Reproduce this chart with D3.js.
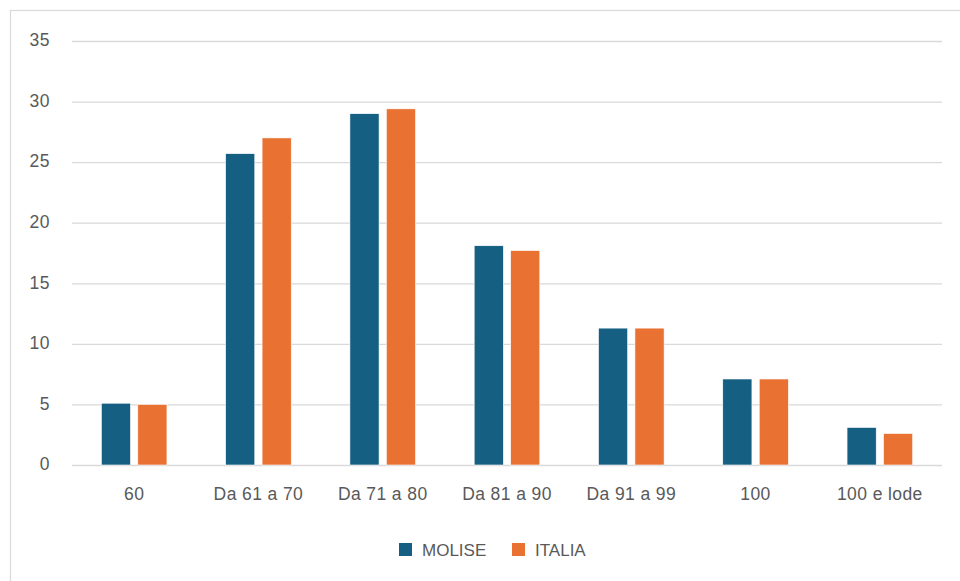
<!DOCTYPE html>
<html>
<head>
<meta charset="utf-8">
<title>MOLISE vs ITALIA</title>
<style>
  body { margin: 0; background: #fff; }
  text { font-family: "Liberation Sans", Arial, sans-serif; fill: #595959; }
  .grid line { stroke: #d9d9d9; stroke-width: 1.3; }
  .grid path { display: none; }
</style>
</head>
<body>
<script src="https://cdn.jsdelivr.net/npm/d3@7"></script>
<script>
// data
var categories = ["60", "Da 61 a 70", "Da 71 a 80", "Da 81 a 90", "Da 91 a 99", "100", "100 e lode"];
var seriesNames = ["MOLISE", "ITALIA"];
var molise = [5.1, 25.7, 29.0, 18.1, 11.3, 7.1, 3.1];
var italia = [5.0, 27.0, 29.4, 17.7, 11.3, 7.1, 2.6];
var yTicks = [0, 5, 10, 15, 20, 25, 30, 35];
var colours = ["#156082", "#e97132"];

var width = 960, height = 581;
var plot = {left: 72, right: 942, top: 41, bottom: 465};

var svg = d3.select("body").append("svg")
    .attr("width", width)
    .attr("height", height);

// chart frame
svg.append("rect")
    .attr("x", 10.5).attr("y", 10.5)
    .attr("width", 980).attr("height", 620)
    .attr("fill", "none").attr("stroke", "#d9d9d9").attr("stroke-width", 1.2);

var x0 = d3.scaleBand().domain(categories)
    .range([plot.left, plot.right])
    .paddingInner(0.472).paddingOuter(0.236);
var x1 = d3.scaleBand().domain(seriesNames)
    .range([0, x0.bandwidth()])
    .paddingInner(0.2);
var y = d3.scaleLinear().domain([0, 35]).range([plot.bottom, plot.top]);

// gridlines
svg.append("g")
    .attr("class", "grid")
    .attr("transform", "translate(" + plot.left + ",0)")
    .call(d3.axisLeft(y).tickValues(yTicks).tickSize(-(plot.right - plot.left)).tickFormat(""));

// y labels
svg.append("g").selectAll("text")
    .data(yTicks).enter().append("text")
    .attr("x", 50)
    .attr("y", function (d) { return y(d); })
    .attr("dy", "0.3em")
    .attr("text-anchor", "end")
    .style("font-size", "17.5px")
    .style("letter-spacing", "0.5px")
    .text(function (d) { return d; });

// bars
var rows = categories.map(function (c, i) { return {cat: c, vals: [molise[i], italia[i]]}; });
var groups = svg.append("g").selectAll("g")
    .data(rows).enter().append("g")
    .attr("transform", function (d) { return "translate(" + x0(d.cat) + ",0)"; });
groups.selectAll("rect")
    .data(function (d) { return d.vals.map(function (v, k) { return {s: seriesNames[k], v: v, k: k}; }); })
    .enter().append("rect")
    .attr("x", function (d) { return x1(d.s); })
    .attr("y", function (d) { return y(d.v); })
    .attr("width", x1.bandwidth())
    .attr("height", function (d) { return y(0) - y(d.v); })
    .attr("fill", function (d) { return colours[d.k]; })
    .attr("stroke", "#fff").attr("stroke-width", 0.6);

// x labels
svg.append("g").selectAll("text")
    .data(categories).enter().append("text")
    .attr("x", function (d) { return x0(d) + x0.bandwidth() / 2; })
    .attr("y", 500)
    .attr("text-anchor", "middle")
    .style("font-size", "17.5px")
    .style("letter-spacing", "0.4px")
    .text(function (d) { return d; });

// legend
var legendX = [399, 512];
var legend = svg.append("g").selectAll("g")
    .data(seriesNames).enter().append("g")
    .attr("transform", function (d, i) { return "translate(" + legendX[i] + ",543)"; });
legend.append("rect")
    .attr("width", 13).attr("height", 13)
    .attr("fill", function (d, i) { return colours[i]; });
legend.append("text")
    .attr("x", 23).attr("y", 7)
    .attr("dy", "0.35em")
    .style("font-size", "17px")
    .text(function (d) { return d; });
</script>
</body>
</html>
